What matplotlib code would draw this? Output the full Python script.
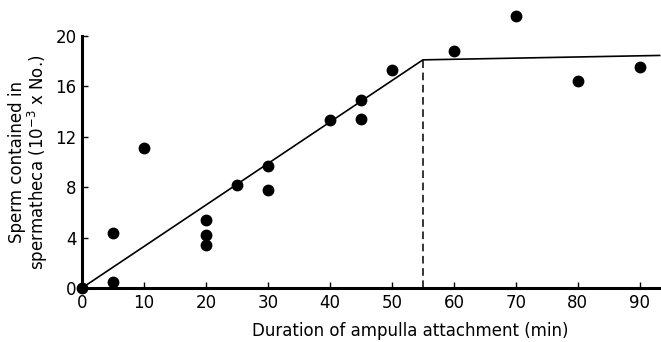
import matplotlib.pyplot as plt
import numpy as np

plt.rcParams['font.family'] = ['DejaVu Sans']

# measured points: duration (min) vs sperm (10^-3 x No.)
minutes = [0, 5, 5, 10, 20, 20, 20, 25, 30, 30, 40, 45, 45, 50, 60, 70, 80, 90]
sperm = [0, 0.5, 4.4, 11.1, 5.4, 4.2, 3.4, 8.2, 9.7, 7.8, 13.3, 14.9, 13.4, 17.3, 18.8, 21.6, 16.4, 17.5]

# fitted line (rise then plateau)
fit_x = [0, 55, 93.2]
fit_y = [0, 18.1, 18.45]
break_x = 55
break_y = 18.1

fig = plt.figure(figsize=(6.61, 3.42), dpi=100)
ax = fig.add_axes([0.124, 0.158, 0.874, 0.737])

ax.plot(fit_x, fit_y, color='black', lw=1.2, clip_on=False)
ax.plot([break_x, break_x], [0, break_y], color='black', lw=1.1, dashes=(5, 3))
ax.plot(minutes, sperm, 'o', color='black', markersize=7.5, clip_on=False, zorder=5)

ax.set_xlim(0, 93.2)
ax.set_ylim(0, 20)
ax.set_xticks(np.arange(0, 91, 10))
ax.set_yticks(np.arange(0, 21, 4))
ax.tick_params(direction='in', length=4, width=1, labelsize=12, pad=4)

ax.spines['right'].set_visible(False)
ax.spines['top'].set_visible(False)
ax.spines['left'].set_linewidth(2.2)
ax.spines['bottom'].set_linewidth(2.2)

ax.set_xlabel('Duration of ampulla attachment (min)', fontsize=12)
ax.xaxis.set_label_coords(0.569, -0.135)
ax.set_ylabel('Sperm contained in\nspermatheca (10$^{-3}$ x No.)', fontsize=12, labelpad=4,
              linespacing=0.95)

fig.savefig('out.png', dpi=100)
